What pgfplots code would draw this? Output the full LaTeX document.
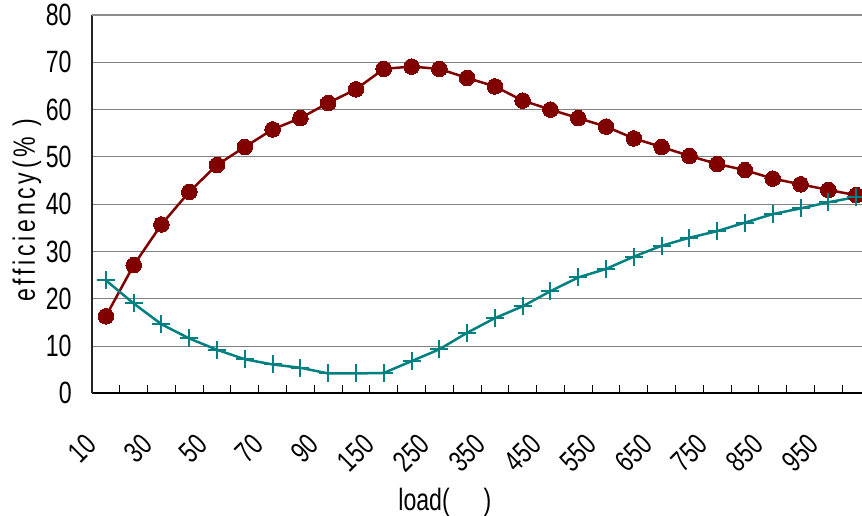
\documentclass[border=0pt]{standalone}
\usepackage{fontspec}
\setmainfont{Liberation Sans}[FakeStretch=0.75]
\usepackage{pgfplots}
\pgfplotsset{compat=1.18}
\definecolor{cred}{RGB}{128,0,0}
\definecolor{cteal}{RGB}{0,128,128}
\newcommand\lbl{\fontsize{15.4}{18}\selectfont}
\newcommand\xlbl{\fontsize{14.75}{17}\selectfont}
\newcommand\tpad[1]{#1\hspace{5.5pt}}
\begin{document}
\begin{tikzpicture}
\begin{axis}[
  scale only axis, width=389pt, height=189.15pt,
  xmin=-0.5, xmax=27.5, ymin=0, ymax=80,
  axis x line=bottom, axis y line=left, axis line style={-},
  x axis line style={black, line width=0.9pt},
  y axis line style={black!85, line width=0.8pt},
  xtick={0,2,...,26},
  xticklabels={10,30,50,70,90,\tpad{150},\tpad{250},\tpad{350},\tpad{450},\tpad{550},\tpad{650},\tpad{750},\tpad{850},\tpad{950}},
  minor xtick={0.5,1.5,...,27.5},
  major tick length=0pt, minor tick length=4pt,
  tick align=inside,
  minor tick style={black, line width=0.5pt},
  ytick={0,10,...,80},
  ymajorgrids, grid style={gray, line width=0.5pt},
  extra y ticks={80}, extra y tick labels={},
  extra y tick style={grid style={gray!90, line width=1.1pt}},
  /pgf/number format/assume math mode=true,
  yticklabel style={font=\lbl, inner sep=0pt, xshift=-10pt},
  xticklabel style={font=\xlbl, inner sep=0pt, anchor=north east, xshift=-11.15pt, yshift=-19.25pt, rotate=45},
  xlabel={load(\hspace{17pt})},
  xlabel style={font=\lbl, inner sep=0pt, anchor=base west, at={(axis description cs:0.3933,-0.3093)}},
  ylabel={\addfontfeature{LetterSpace=12}efficiency(\%\ )},
  ylabel style={font=\lbl, inner sep=0pt, anchor=base, at={(axis description cs:-0.0733,0.4837)}},
]
\addplot[cred, line width=1.25pt, mark=*, mark size=3.9pt,
  mark options={solid, fill=cred, draw=cred, line width=0pt}] table {
x y
0 16.3
1 27.1
2 35.7
3 42.6
4 48.3
5 52.1
6 55.8
7 58.2
8 61.4
9 64.3
10 68.6
11 69.1
12 68.6
13 66.7
14 64.9
15 61.9
16 60.0
17 58.2
18 56.4
19 53.9
20 52.1
21 50.2
22 48.5
23 47.2
24 45.4
25 44.2
26 43.0
27 41.9
};
\addplot[cteal, line width=1.25pt, mark=+, mark size=4.5pt,
  mark options={solid, line width=1pt}] table {
x y
0 23.9
1 19.0
2 14.6
3 11.6
4 9.2
5 7.2
6 6.1
7 5.4
8 4.2
9 4.2
10 4.3
11 6.8
12 9.3
13 12.8
14 15.9
15 18.4
16 21.6
17 24.5
18 26.3
19 28.9
20 31.2
21 32.9
22 34.3
23 36.1
24 37.9
25 39.1
26 40.4
27 41.5
};
\end{axis}
\pgfresetboundingbox
\useasboundingbox (-46pt,-61pt) rectangle (385pt,196.65pt);
\end{tikzpicture}
\end{document}
